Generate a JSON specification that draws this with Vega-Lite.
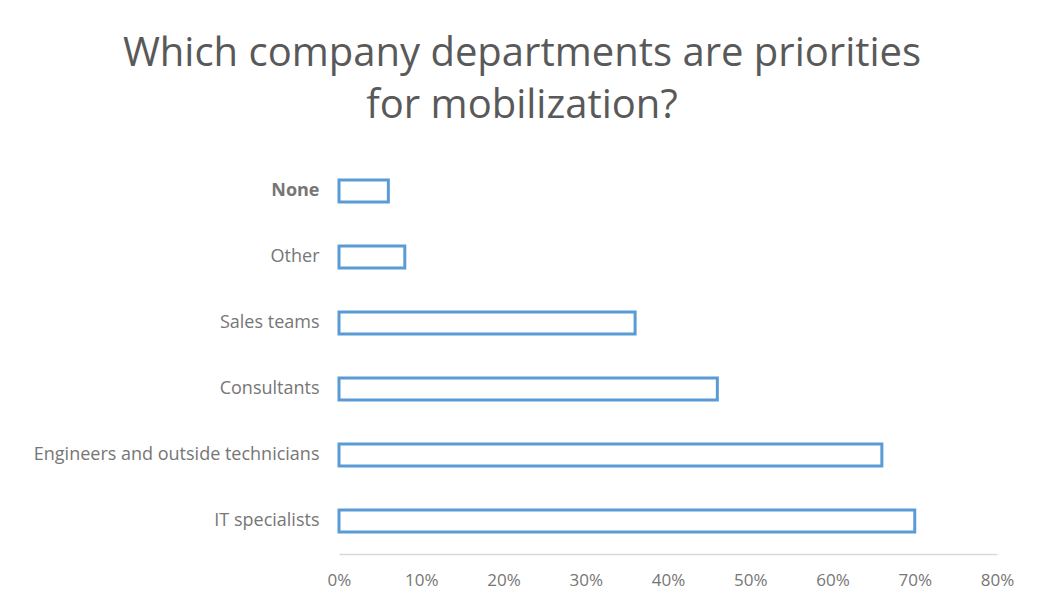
{
  "$schema": "https://vega.github.io/schema/vega-lite/v6.json",
  "autosize": {"type": "none"},
  "width": 658,
  "height": 396,
  "padding": {"left": 339, "top": 158, "right": 48, "bottom": 61},
  "background": "white",
  "title": {
    "text": ["Which company departments are priorities", "for mobilization?"],
    "anchor": "middle",
    "frame": "group",
    "dx": -146,
    "offset": 32,
    "font": "Open Sans",
    "fontWeight": "normal",
    "fontSize": 40,
    "lineHeight": 52,
    "color": "#595959"
  },
  "data": {
    "values": [
      {"department": "None", "share": 0.06},
      {"department": "Other", "share": 0.08},
      {"department": "Sales teams", "share": 0.36},
      {"department": "Consultants", "share": 0.46},
      {"department": "Engineers and outside technicians", "share": 0.66},
      {"department": "IT specialists", "share": 0.70}
    ]
  },
  "mark": {"type": "bar", "fill": "white", "stroke": "#5B9BD5", "strokeWidth": 3},
  "encoding": {
    "y": {
      "field": "department",
      "type": "nominal",
      "sort": ["None", "Other", "Sales teams", "Consultants", "Engineers and outside technicians", "IT specialists"],
      "scale": {"paddingInner": 0.67, "paddingOuter": 0.335},
      "axis": {
        "title": null,
        "domain": false,
        "ticks": false,
        "labelPadding": 20,
        "labelLimit": 400,
        "labelFont": "Open Sans",
        "labelFontSize": 18,
        "labelColor": "#767676",
        "labelFontWeight": {"condition": {"test": "datum.value == 'None'", "value": "bold"}, "value": "normal"}
      }
    },
    "x": {
      "field": "share",
      "type": "quantitative",
      "scale": {"domain": [0, 0.8]},
      "axis": {
        "title": null,
        "format": ".0%",
        "values": [0, 0.1, 0.2, 0.3, 0.4, 0.5, 0.6, 0.7, 0.8],
        "labelOverlap": false,
        "grid": false,
        "ticks": false,
        "domainColor": "#d9d9d9",
        "domainWidth": 1.5,
        "labelPadding": 18,
        "labelFont": "Open Sans",
        "labelFontSize": 17,
        "labelColor": "#767676",
        "labelFlush": false
      }
    }
  },
  "config": {"view": {"stroke": null}}
}
